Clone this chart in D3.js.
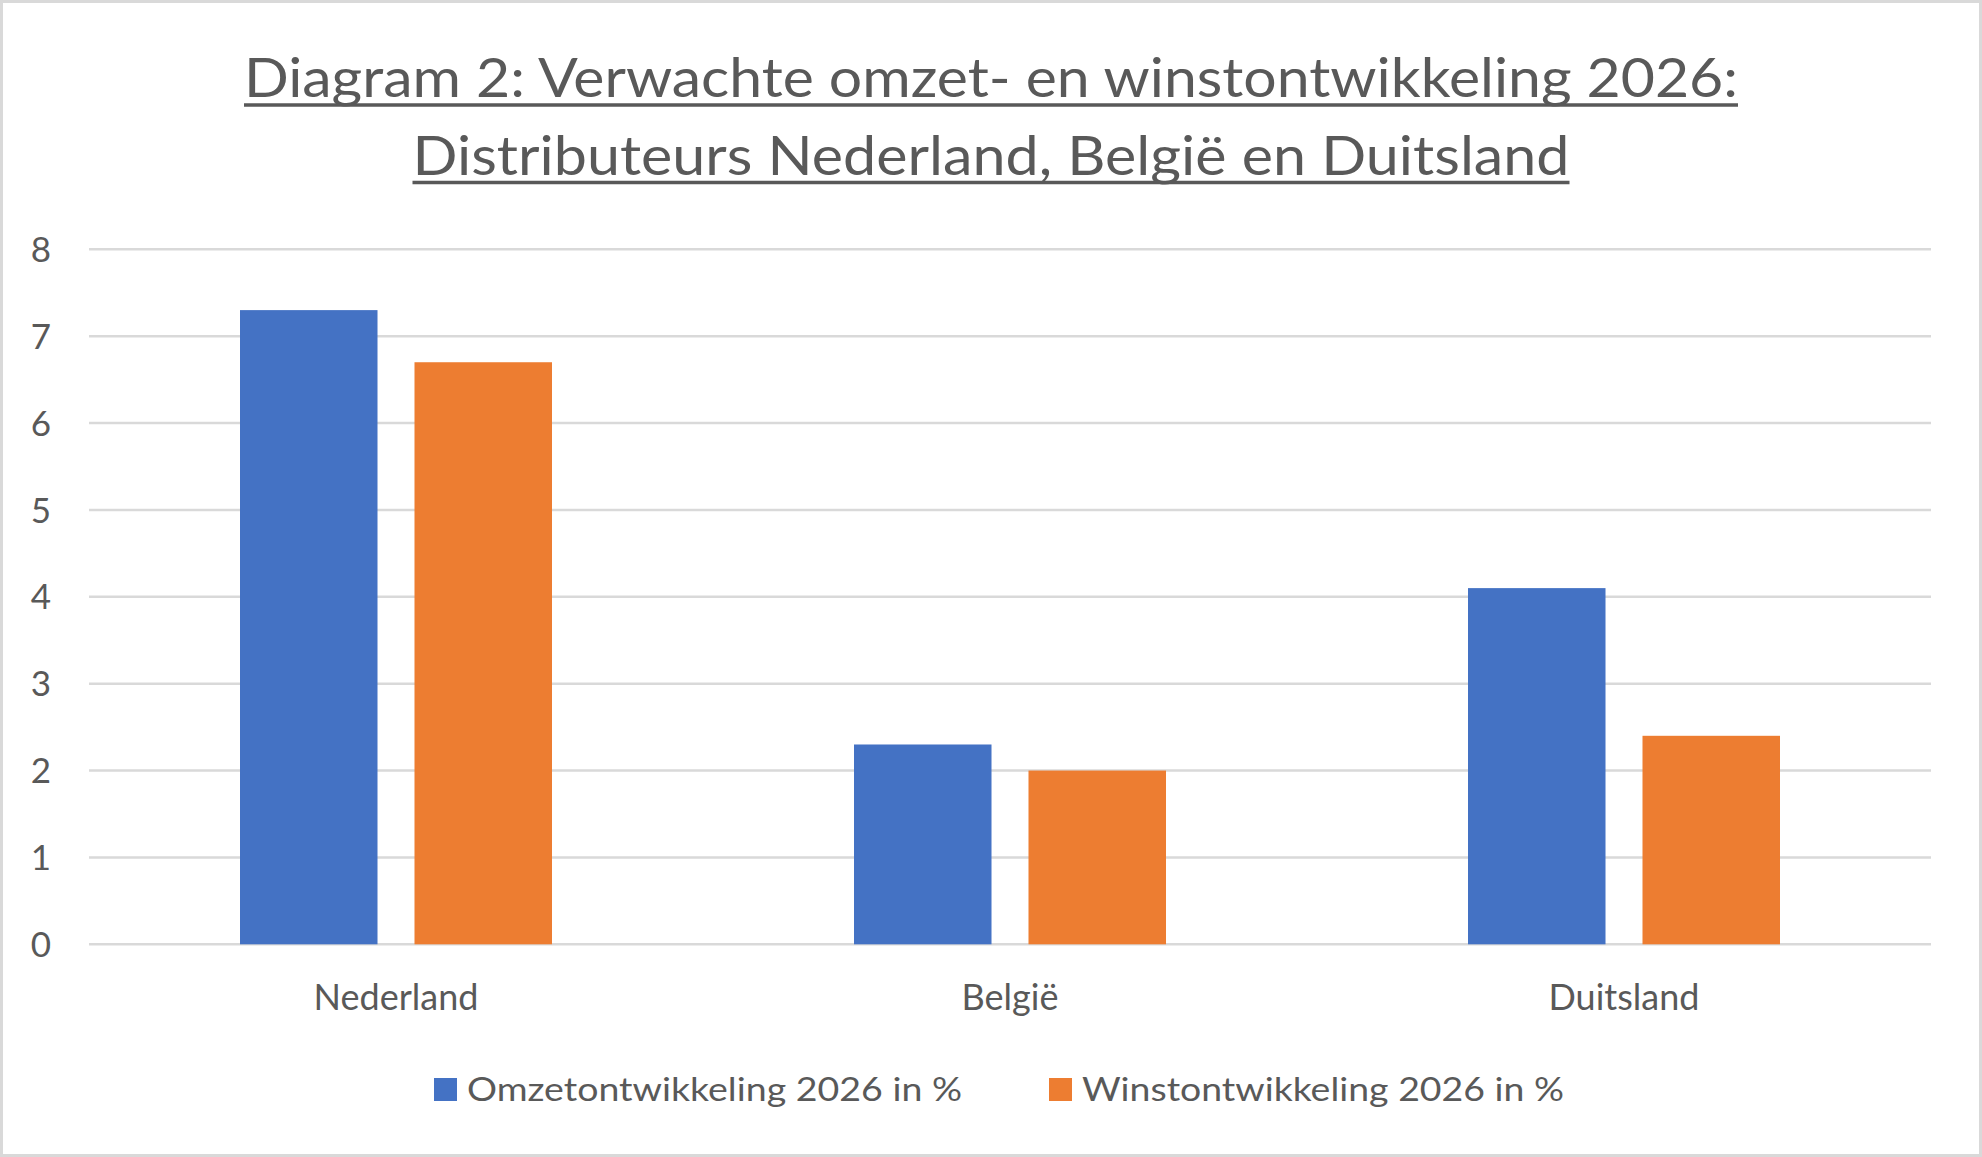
<!DOCTYPE html>
<html>
<head>
<meta charset="utf-8">
<script src="https://cdn.jsdelivr.net/npm/d3@7"></script>
<style>
  html, body { margin: 0; padding: 0; background: #fff; }
  svg { display: block; }
  text { font-family: Lato, "Open Sans", sans-serif; fill: #595959; }
</style>
</head>
<body>
<svg id="chart" width="1982" height="1157"></svg>
<script>
const titleLines = ["Diagram 2: Verwachte omzet- en winstontwikkeling 2026:", "Distributeurs Nederland, België en Duitsland"];
const categories = ["Nederland", "België", "Duitsland"];
const seriesNames = ["Omzetontwikkeling 2026 in %", "Winstontwikkeling 2026 in %"];
const omzet = [7.3, 2.3, 4.1];
const winst = [6.7, 2.0, 2.4];
const yTicks = [0, 1, 2, 3, 4, 5, 6, 7, 8];
const colors = ["#4472C4", "#ED7D31"];

const W = 1982, H = 1157;
const svg = d3.select("#chart");

// chart border
svg.append("rect").attr("x", 1.5).attr("y", 1.5).attr("width", W - 3).attr("height", H - 3)
  .attr("fill", "#fff").attr("stroke", "#d9d9d9").attr("stroke-width", 3);

// Title
const titleBase = [97, 175];
const titleWidths = [1494, 1157];
const underlineY = [105, 182.5];
titleLines.forEach((t, i) => {
  const tx = svg.append("text").attr("x", W / 2).attr("y", titleBase[i])
    .attr("text-anchor", "middle").attr("font-size", 55).text(t);
  tx.attr("textLength", titleWidths[i]).attr("lengthAdjust", "spacingAndGlyphs");
  svg.append("line").attr("x1", W / 2 - titleWidths[i] / 2).attr("x2", W / 2 + titleWidths[i] / 2)
    .attr("y1", underlineY[i]).attr("y2", underlineY[i])
    .attr("stroke", "#595959").attr("stroke-width", 3.4);
});

// Scales
const plotL = 89, plotR = 1931, yTop = 249.3, yBot = 944.3;
const y = d3.scaleLinear().domain([0, 8]).range([yBot, yTop]);
const x0 = d3.scaleBand().domain(categories).range([plotL, plotR]).padding(0);
const x1 = d3.scaleBand().domain(seriesNames).range([151, x0.step() - 151]).paddingInner(0.212).paddingOuter(0);

// gridlines
svg.append("g").selectAll("line").data(yTicks).join("line")
  .attr("x1", plotL).attr("x2", plotR)
  .attr("y1", d => y(d)).attr("y2", d => y(d))
  .attr("stroke", "#d9d9d9").attr("stroke-width", 2.5);

// y axis labels
svg.append("g").selectAll("text").data(yTicks).join("text")
  .attr("x", 51).attr("y", d => y(d)).attr("dy", "0.36em")
  .attr("text-anchor", "end").attr("font-size", 35).text(d => d);

// bars
const data = categories.map((c, i) => ({ cat: c, vals: [omzet[i], winst[i]] }));
const groups = svg.append("g").selectAll("g").data(data).join("g")
  .attr("transform", d => `translate(${x0(d.cat)},0)`);
groups.selectAll("rect").data(d => d.vals.map((v, j) => ({ v, s: seriesNames[j], j })))
  .join("rect")
  .attr("x", d => x1(d.s)).attr("width", x1.bandwidth())
  .attr("y", d => y(d.v)).attr("height", d => y(0) - y(d.v))
  .attr("fill", d => colors[d.j]);

// x labels
svg.append("g").selectAll("text").data(categories).join("text")
  .attr("x", d => x0(d) + x0.bandwidth() / 2).attr("y", 1010)
  .attr("text-anchor", "middle").attr("font-size", 36).text(d => d);

// legend
const legX = [434, 1049];
const legW = [495, 482];
seriesNames.forEach((s, i) => {
  svg.append("rect").attr("x", legX[i]).attr("y", 1078).attr("width", 23).attr("height", 23).attr("fill", colors[i]);
  svg.append("text").attr("x", legX[i] + 33).attr("y", 1101).attr("font-size", 33)
    .attr("textLength", legW[i]).attr("lengthAdjust", "spacingAndGlyphs").text(s);
});
</script>
</body>
</html>
